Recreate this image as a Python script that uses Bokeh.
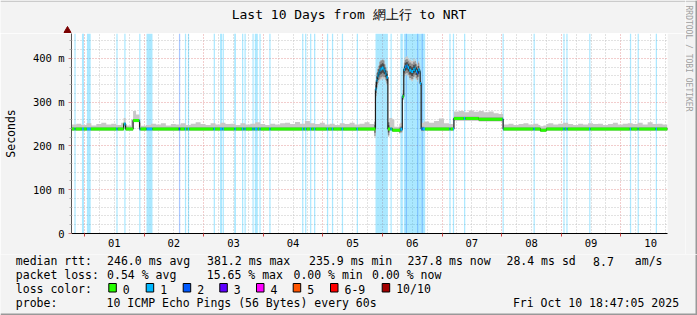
import numpy as np
from bokeh.plotting import figure
from bokeh.layouts import column, row
from bokeh.models import LinearAxis, FixedTicker, Grid, Range1d
from bokeh.core.properties import value
from bokeh.embed import file_html
from bokeh.resources import INLINE

MONO = "DejaVu Sans Mono"

# ---------------- data ----------------
# time in hours relative to Wed Oct 01 00:00; graph: last 10 days ending Fri Oct 10 18:47:05
t_start = -5.2153
t_end = 234.7847

day_labels = ["01", "02", "03", "04", "05", "06", "07", "08", "09", "10"]
day_noon_h = [12, 36, 60, 84, 108, 132, 156, 180, 204, 228]
midnight_h = [0, 24, 48, 72, 96, 120, 144, 168, 192, 216]
six_hour_h = [6, 12, 18, 30, 36, 42, 54, 60, 66, 78, 84, 90, 102, 108, 114, 126, 132, 138,
              150, 156, 162, 174, 180, 186, 198, 204, 210, 222, 228, 234]

y_major_ms = [0, 100, 200, 300, 400]
y_major_labels = ["0", "100 m", "200 m", "300 m", "400 m"]
y_minor_ms = [20, 40, 60, 80, 120, 140, 160, 180, 220, 240, 260, 280, 320, 340, 360, 380, 420, 440]

# median rtt (ms), step values starting at the given hour
med_t = [-5.22, 15.6, 16.4, 19.4, 22.0, 117.0, 117.4, 117.8, 118.2, 118.6, 119.0, 119.6, 120.2,
         120.6, 121.0, 121.4, 122.0, 123.8, 127.0, 127.8, 128.4, 128.8, 129.4, 130.0, 130.6,
         131.4, 132.2, 132.8, 133.2, 133.8, 134.2, 134.8, 135.1, 135.4, 148.6, 158.6, 168.4,
         183.4, 185.8]
med_ms = [239, 250, 239, 258, 239, 330, 350, 360, 367, 373, 376, 378, 376,
          372, 365, 357, 239, 236, 238, 313, 375, 381, 383, 379, 373,
          370, 375, 378, 371, 367, 374, 370, 343, 239, 263, 261, 239,
          236, 239]

# smoke spread (ms above / below the median), one value per 2-hour slot
smoke_up = [10, 12, 9, 13, 8, 11, 14, 10, 12, 9,
            14, 8, 22, 14, 7, 9, 12, 10, 13, 8,
            11, 10, 13, 9, 12, 15, 11, 9, 13, 10,
            14, 11, 12, 9, 13, 10, 12, 15, 11, 9,
            12, 10, 13, 14, 11, 16, 12, 18, 13, 11,
            14, 10, 12, 9, 13, 11, 14, 10, 12, 15,
            11, 18, 20, 16, 25, 8, 15, 22, 24, 20,
            14, 17, 14, 18, 24, 13, 11, 16, 17, 14,
            18, 15, 19, 16, 18, 14, 12, 10, 12, 9,
            11, 13, 10, 12, 9, 11, 13, 10, 12, 14,
            11, 9, 12, 10, 13, 11, 12, 9, 11, 14,
            10, 12, 13, 11, 14, 10, 15, 11, 12, 10]
smoke_dn = [4, 4, 4, 4, 4, 4, 4, 4, 4, 4,
            4, 4, 4, 4, 4, 4, 4, 4, 4, 4,
            4, 4, 4, 4, 4, 4, 4, 4, 4, 4,
            4, 4, 4, 4, 4, 4, 4, 4, 4, 4,
            4, 4, 4, 4, 4, 4, 4, 4, 4, 4,
            4, 4, 4, 4, 4, 4, 4, 4, 4, 4,
            4, 20, 24, 18, 4, 4, 8, 20, 22, 20,
            6, 4, 4, 4, 4, 4, 4, 5, 5, 5,
            5, 5, 5, 5, 5, 5, 5, 4, 4, 4,
            4, 4, 4, 4, 4, 4, 4, 4, 4, 4,
            4, 4, 4, 4, 4, 4, 4, 4, 4, 4,
            4, 4, 4, 4, 4, 4, 4, 4, 4, 4]
smoke_t = [round(t_start + 2 * i, 4) for i in range(len(smoke_up))]

# packet loss events: centre hour, duration (h), lost pings out of 10
loss_t = [-3.8, -0.6, 1.75, 13.1, 16.3, 22.3, 26.2, 38.3, 40.7, 41.9, 52.3, 55.0, 55.9, 60.65,
          63.7, 64.7, 67.9, 69.2, 70.7, 74.7, 87.9, 89.1, 91.1, 92.7, 97.9, 99.9, 103.9, 109.9,
          119.7, 123.5, 127.7, 132.9, 129.6, 134.2, 136.0, 147.2, 148.6, 153.1, 168.6, 181.1,
          193.1, 194.3, 203.5, 219.9, 223.0, 230.3]
loss_w = [0.5, 0.8, 1.5, 0.5, 0.5, 0.5, 2.4, 0.5, 0.5, 0.5, 0.5, 0.8, 0.5, 0.7,
          0.5, 0.5, 0.5, 1.2, 0.5, 0.5, 0.5, 0.5, 0.5, 0.5, 0.5, 0.5, 0.5, 0.5,
          5.0, 0.5, 1.0, 8.6, 0.4, 0.4, 0.4, 0.5, 0.5, 0.5, 0.5, 0.5,
          0.5, 0.5, 0.5, 0.5, 0.5, 0.5]
loss_n = [1, 1, 1, 1, 1, 1, 1, 2, 1, 1, 1, 1, 1, 1,
          1, 1, 1, 1, 1, 1, 1, 1, 1, 1, 1, 1, 1, 1,
          1, 1, 1, 1, 2, 2, 2, 1, 1, 1, 1, 1,
          1, 1, 1, 1, 1, 1]

loss_color_labels = ["0", "1", "2", "3", "4", "5", "6-9", "10/10"]
loss_color_values = ["#26ff00", "#00b8ff", "#0059ff", "#5e00ff", "#ff00ff", "#ff5500", "#ff0000", "#a10000"]

title_text = "Last 10 Days from 網上行 to NRT"
rtt_stats = ["246.0 ms avg", "381.2 ms max", "235.9 ms min", "237.8 ms now", "28.4 ms sd", "8.7", "am/s"]
loss_stats = ["0.54 % avg", "15.65 % max", "0.00 % min", "0.00 % now"]
probe_text = "10 ICMP Echo Pings (56 Bytes) every 60s"
stamp_text = "Fri Oct 10 18:47:05 2025"
credit_text = "RRDTOOL / TOBI OETIKER"

# ---------------- layout constants (pixels) ----------------
BG = "#F3F3F3"
W = 697          # whole image
WR = 12          # right strip (credit)
WM = W - WR      # main column width
HT = 33          # title strip
HP = 221         # chart
HL = 315 - HT - HP  # legend strip
Y_MAX = 457


def strip(w, h):
    f = figure(width=w, height=h, x_range=Range1d(0, w), y_range=Range1d(h, 0),
               x_axis_type=None, y_axis_type=None, output_backend="svg",
               toolbar_location=None, min_border=0, background_fill_color=BG,
               border_fill_color=BG, outline_line_color=None)
    return f


# ---------------- main chart ----------------
p = figure(width=WM, height=HP, x_range=Range1d(t_start, t_end), y_range=Range1d(0, Y_MAX),
           x_axis_type=None, y_axis_type=None, output_backend="svg", toolbar_location=None,
           min_border_left=67, min_border_right=WM - 667, min_border_top=0,
           min_border_bottom=HP - 200, background_fill_color="white",
           border_fill_color=BG, outline_line_color=None)
p.title.text = ""
p.title.standoff = 0

xaxis = LinearAxis(ticker=FixedTicker(ticks=day_noon_h, minor_ticks=midnight_h),
                   major_label_overrides={t: l for t, l in zip(day_noon_h, day_labels)})
xaxis.major_tick_line_color = None
xaxis.major_tick_out = 0
xaxis.major_tick_in = 0
xaxis.minor_tick_out = 3
xaxis.minor_tick_in = 0
xaxis.minor_tick_line_color = "#d04040"
xaxis.axis_line_color = "black"
xaxis.major_label_standoff = 2
xaxis.major_label_text_font = MONO
xaxis.major_label_text_font_size = "10.5px"
xaxis.major_label_text_color = "black"
p.add_layout(xaxis, "below")

yaxis = LinearAxis(ticker=FixedTicker(ticks=y_major_ms, minor_ticks=y_minor_ms),
                   major_label_overrides={t: l for t, l in zip(y_major_ms, y_major_labels)})
yaxis.major_tick_out = 3
yaxis.major_tick_in = 0
yaxis.major_tick_line_color = "#d08080"
yaxis.minor_tick_out = 2
yaxis.minor_tick_in = 0
yaxis.minor_tick_line_color = "#b0b0b0"
yaxis.axis_line_color = "#555555"
yaxis.major_label_standoff = 4
yaxis.major_label_text_font = MONO
yaxis.major_label_text_font_size = "10.5px"
yaxis.major_label_text_color = "black"
yaxis.axis_label = "Seconds"
yaxis.axis_label_text_font = MONO
yaxis.axis_label_text_font_size = "11.5px"
yaxis.axis_label_text_font_style = "normal"
yaxis.axis_label_text_color = "black"
yaxis.axis_label_standoff = 12
p.add_layout(yaxis, "left")

for dim, ticks, col in [(0, six_hour_h, "#c4c4c4"), (0, midnight_h, "#e49a9a"),
                        (1, y_minor_ms, "#c4c4c4"), (1, y_major_ms[1:], "#e49a9a")]:
    p.add_layout(Grid(dimension=dim, ticker=FixedTicker(ticks=ticks), grid_line_color=col,
                      grid_line_dash="1 2", grid_line_width=1))

# loss background bars
lt = np.array(loss_t)
lw = np.array(loss_w)
ln = np.array(loss_n)
for n in (1, 2):
    m = ln == n
    p.quad(left=lt[m] - lw[m] / 2, right=lt[m] + lw[m] / 2, bottom=0, top=Y_MAX,
           fill_color=loss_color_values[n], fill_alpha=0.33, line_color=None)


def step_lookup(ts, vs, t):
    idx = np.clip(np.searchsorted(ts, t, side="right") - 1, 0, len(vs) - 1)
    return np.asarray(vs, dtype=float)[idx]


tg = np.arange(t_start, t_end, 0.2)
edges = np.append(tg, t_end)
med = step_lookup(med_t, med_ms, tg)
up = step_lookup(smoke_t, smoke_up, tg)
dn = step_lookup(smoke_t, smoke_dn, tg)
xs = np.repeat(edges, 2)[1:-1]


def rep(v):
    return np.repeat(v, 2)


p.varea(x=xs, y1=rep(med - dn), y2=rep(med + up), fill_color="#c8c8c8")
p.varea(x=xs, y1=rep(med - 0.8 * dn), y2=rep(med + 0.8 * dn), fill_color="#8e8e8e")
p.varea(x=xs, y1=rep(med - 0.45 * dn), y2=rep(med + 0.45 * dn), fill_color="#4a4a4a")
p.line(x=xs, y=rep(med), line_color="#1a1a1a", line_width=1.2)

centres = tg + 0.1
cell_loss = np.zeros(len(tg), dtype=int)
for c, w, n in zip(loss_t, loss_w, loss_n):
    inside = (centres >= c - w / 2) & (centres <= c + w / 2)
    cell_loss[inside] = np.maximum(cell_loss[inside], n)
x0s, x1s, ys, cols = [], [], [], []
start = 0
for i in range(1, len(tg) + 1):
    if i == len(tg) or med[i] != med[start] or cell_loss[i] != cell_loss[start]:
        x0s.append(edges[start])
        x1s.append(edges[i])
        ys.append(med[start])
        cols.append(loss_color_values[cell_loss[start]])
        start = i
p.segment(x0=x0s, y0=ys, x1=x1s, y1=ys, line_color=cols, line_width=3, line_cap="butt")

# ---------------- title strip ----------------
t = strip(WM, HT)
t.text(x=[348.5], y=[14.3], text=[title_text], text_font=value(MONO),
       text_font_size=value("13px"), text_color="black", text_align=value("center"),
       text_baseline=value("alphabetic"))
t.quad(left=0, right=WM, top=0, bottom=1.5, fill_color="#cbcbcb", line_color=None)
t.scatter(x=[67], y=[30], marker="triangle", size=7, fill_color="#7b0000", line_color="#7b0000")

# ---------------- credit strip ----------------
r = strip(WR, HT + HP)
r.text(x=[3], y=[5], text=[credit_text], text_font=value(MONO), text_font_size=value("8px"),
       text_color="#a0a0a0", text_align=value("left"), text_baseline=value("middle"),
       angle=-np.pi / 2)
r.quad(left=0, right=WR, top=0, bottom=1.5, fill_color="#cbcbcb", line_color=None)
r.quad(left=WR - 2, right=WR, top=0, bottom=HT + HP, fill_color="#999999", line_color=None)

# ---------------- legend strip ----------------
q = strip(W, HL)
Y0 = HT + HP
row_y = [260.5 - Y0, 274.5 - Y0, 288.5 - Y0, 302.4 - Y0]
lx, ly, ls = [], [], []


def put(s, x, y):
    lx.append(x)
    ly.append(y)
    ls.append(s)


put("median rtt:", 15.3, row_y[0])
for s, x in zip(rtt_stats, [106.6, 206.6, 308.6, 407.0, 506.0, 592.6, 634.3]):
    put(s, x, row_y[0])
put("packet loss:", 15.3, row_y[1])
for s, x in zip(loss_stats, [106.6, 206.3, 293.0, 371.6]):
    put(s, x, row_y[1])
put("loss color:", 15.3, row_y[2])
sq_x = [108.3, 145.7, 182.7, 219.3, 256.0, 292.7, 330.0, 381.7]
for s, x in zip(loss_color_labels, sq_x):
    put(s, x + 14, row_y[2])
put("probe:", 15.3, row_y[3])
put(probe_text, 106.1, row_y[3])
put(stamp_text, 512.4, row_y[3])

q.text(x=lx, y=ly, text=ls, text_font=value(MONO), text_font_size=value("11.5px"),
       text_color="black", text_align=value("left"), text_baseline=value("alphabetic"))
q.quad(left=sq_x, right=[x + 7.5 for x in sq_x], top=283 - Y0, bottom=291.5 - Y0,
       fill_color=loss_color_values, line_color="black", line_width=1)
q.quad(left=W - 2, right=W, top=0, bottom=HL, fill_color="#999999", line_color=None)
q.quad(left=0, right=W, top=HL - 2, bottom=HL, fill_color="#999999", line_color=None)

for fig in (p, t, r, q):
    if "frame_align" in fig.properties():
        fig.frame_align = False

layout = column(row(column(t, p, spacing=0), r, spacing=0), q, spacing=0)
open("out.html", "w").write(file_html(layout, INLINE))
